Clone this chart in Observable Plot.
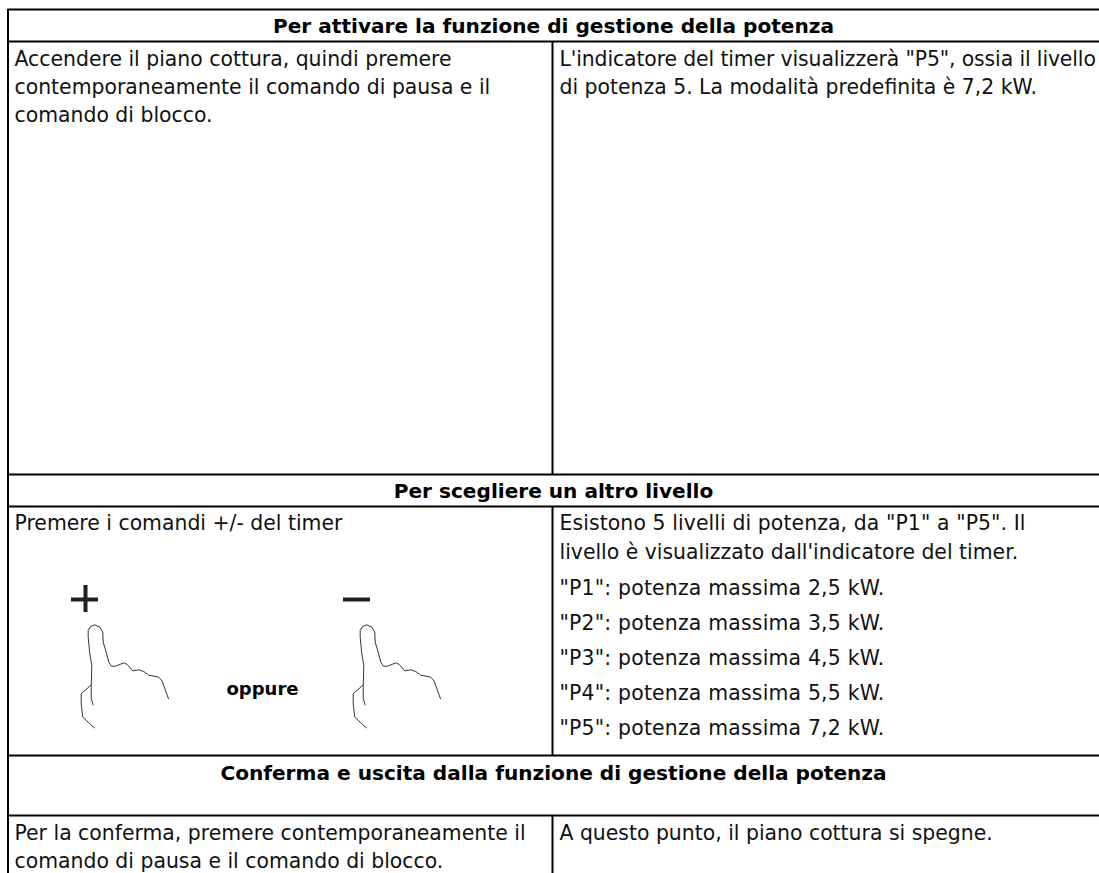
<!DOCTYPE html>
<html><head><meta charset="utf-8">
<script src="https://cdn.jsdelivr.net/npm/d3@7"></script>
<script src="https://cdn.jsdelivr.net/npm/@observablehq/plot@0.6"></script>
<style>html,body{margin:0;padding:0;background:#fff}svg{display:block}</style>
</head><body><div id="c"></div>
<script>
const rowRules = [9, 41, 474, 506, 755, 815];
const leftEdge = [7.5];
const columnSpans = [[41, 474], [506, 755], [815, 873]];
const columnEdge = 552;
const headers = ["Per attivare la funzione di gestione della potenza", "Per scegliere un altro livello", "Conferma e uscita dalla funzione di gestione della potenza"];
const headerX = [553, 553, 553];
const headerY = [26, 491, 773];
const orLabel = ["oppure"];
const bodyText = ["Accendere il piano cottura, quindi premere", "contemporaneamente il comando di pausa e il", "comando di blocco.",
  "L'indicatore del timer visualizzerà \"P5\", ossia il livello", "di potenza 5. La modalità predefinita è 7,2 kW.",
  "Premere i comandi +/- del timer",
  "Esistono 5 livelli di potenza, da \"P1\" a \"P5\". Il", "livello è visualizzato dall'indicatore del timer.",
  "\"P1\": potenza massima 2,5 kW.", "\"P2\": potenza massima 3,5 kW.", "\"P3\": potenza massima 4,5 kW.", "\"P4\": potenza massima 5,5 kW.", "\"P5\": potenza massima 7,2 kW.",
  "Per la conferma, premere contemporaneamente il", "comando di pausa e il comando di blocco.", "A questo punto, il piano cottura si spegne."];
const bodyX = [14,14,14, 559,559, 14, 559,559, 559,559,559,559,559, 14,14, 559];
const bodyY = [59,87,115, 59,87, 523, 523,552, 588,623,658,693,728, 833,861, 833];
const tracking = [0,0,0, -0.12,0, 0, 0.1,0, 0.2,0.2,0.2,0.2,0.2, 0,0, 0];
const signH = [[71,98,599],[343,370,599]];
const signV = [[85,585,612]];
const handOffsets = [0, 272];
const fingerX = [92.7,90.7,90.7,91.3,89.3,87.7,87.7,90,94.3,99.3,102.3,102.7,105.7,108.3,111,115,123.3,126.7,132.3,138.3,143.3,148.3,158.3,161.7,168];
const fingerY = [704.3,698.3,686.7,665,653.3,636.7,630,626,624.3,626.7,631.7,641.7,651.7,661.7,665.7,665.7,662.3,664,670.3,669.3,671,674.7,676.7,680.7,698.3];
const thumbX = [90,80.7,80.7,82.3,88.3,93.7];
const thumbY = [685,693.3,703.3,716.7,722.3,727.3];

const handMarks = handOffsets.flatMap(dx => [
  Plot.line(fingerX.map((x,i)=>[x+dx, fingerY[i]]), {stroke:"#333", strokeWidth:1}),
  Plot.line(thumbX.map((x,i)=>[x+dx, thumbY[i]]), {stroke:"#333", strokeWidth:1})
]);
const plot = Plot.plot({
  width:1099, height:873, margin:0,
  x:{domain:[0,1099], range:[0,1099], axis:null},
  y:{domain:[0,873], range:[0,873], axis:null},
  style:{fontFamily:"'DejaVu Sans'", background:"#fff"},
  marks:[
    Plot.ruleY(rowRules, {x1:leftEdge[0], x2:1099, stroke:"#000", strokeWidth:2}),
    Plot.ruleX(leftEdge, {y1:rowRules[0], y2:873, stroke:"#000", strokeWidth:2}),
    Plot.ruleX(columnSpans, {x:()=>columnEdge, y1:d=>d[0], y2:d=>d[1], stroke:"#000", strokeWidth:2}),
    Plot.ruleY(signH, {x1:d=>d[0], x2:d=>d[1], y:d=>d[2], stroke:"#231f20", strokeWidth:4}),
    Plot.ruleX(signV, {x:d=>d[0], y1:d=>d[1], y2:d=>d[2], stroke:"#231f20", strokeWidth:4}),
    ...handMarks,
    Plot.text(headers, {x:(d,i)=>headerX[i], y:(d,i)=>headerY[i], text:d=>d, fontSize:20.1, fontWeight:"bold", fill:"#000", textAnchor:"middle"}),
    Plot.text(orLabel, {x:()=>262, y:()=>689, text:d=>d, fontSize:18, fontWeight:"bold", fill:"#000", textAnchor:"middle"}),
    Plot.text(bodyText, {x:(d,i)=>bodyX[i], y:(d,i)=>bodyY[i], text:d=>d, fontSize:20.4, fill:"#111", textAnchor:"start",
      render(index, scales, values, dims, ctx, next){
        const g = next(index, scales, values, dims, ctx);
        d3.select(g).selectAll("text").each(function(_, j){ this.style.letterSpacing = tracking[index[j]] + "px"; });
        return g;
      }})
  ]
});
document.getElementById("c").appendChild(plot);
</script></body></html>
